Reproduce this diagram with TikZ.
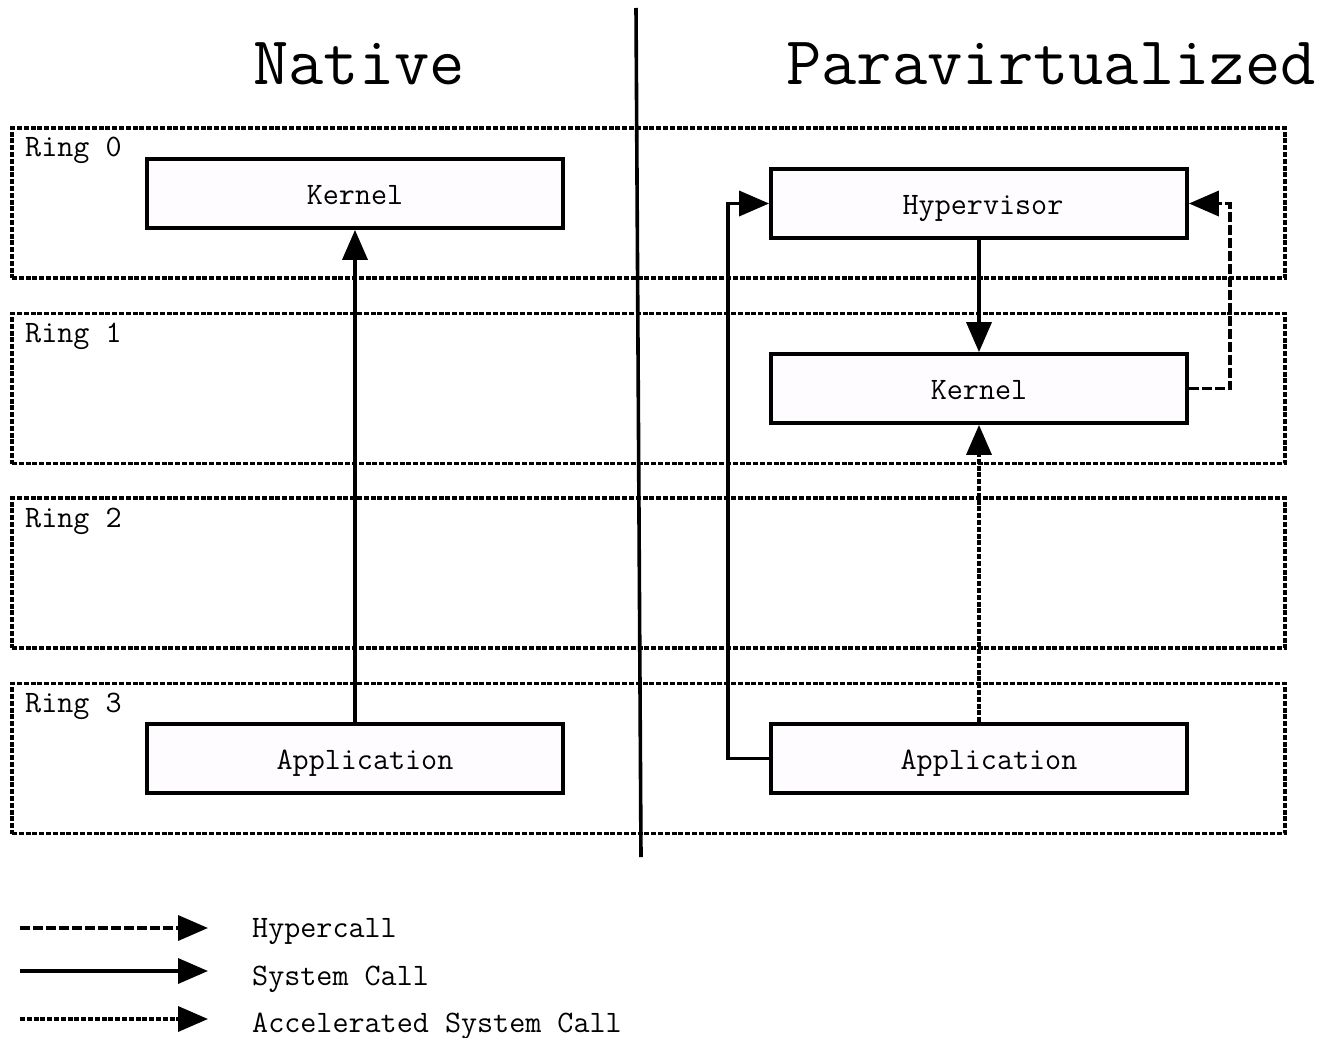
\documentclass[tikz,border=0pt]{standalone}
\usepackage{fontspec}
\usetikzlibrary{arrows.meta}
\definecolor{boxfill}{RGB}{255,252,255}
\begin{document}
\begin{tikzpicture}[x=1pt,y=-1pt,
  ringbox/.style={draw,line width=3.3pt,dash pattern=on 5pt off 1.8pt,minimum width=1273pt,minimum height=150pt,inner sep=0pt},
  compbox/.style={draw,line width=3.8pt,fill=boxfill,minimum width=416pt,minimum height=69pt,inner sep=0pt,text height=22pt,text depth=0pt,font=\ttfamily\fontsize{31.2}{34}\selectfont},
  lbl/.style={font=\ttfamily\fontsize{31.2}{34}\selectfont,inner sep=0pt},
  ttl/.style={font=\ttfamily\fontsize{68.5}{72}\selectfont,inner sep=0pt},
  tip/.style={-{Triangle[length=30pt,width=25pt]}},
  syscall/.style={tip,line width=3.6pt},
  hyper/.style={tip,line width=3.6pt,dash pattern=on 10pt off 3pt},
  accel/.style={tip,line width=3.6pt,dash pattern=on 5pt off 1.8pt}]
\useasboundingbox (0,0) rectangle (1322,1038);
% rings
\node[ringbox] (r0) at (648.5,203) {};
\node[ringbox] (r1) at (648.5,388.5) {};
\node[ringbox] (r2) at (648.5,573) {};
\node[ringbox] (r3) at (648.5,758.5) {};
\node[lbl,anchor=base west] (r0l) at (25,157) {Ring 0};
\node[lbl,anchor=base west] (r1l) at (25,342) {Ring 1};
\node[lbl,anchor=base west] (r2l) at (25,527) {Ring 2};
\node[lbl,anchor=base west] (r3l) at (25,712) {Ring 3};
% titles
\node[ttl,anchor=base] (tn) at (359,85) {Native};
\node[ttl,anchor=base] (tp) at (1051,85) {Paravirtualized};
% divider
\coordinate (dtop) at (636,8);
\coordinate (dbot) at (641,857);
\draw[line width=3.6pt] (dtop) -- (dbot);
% native
\node[compbox] (k1) at (355,193.5) {Kernel};
\node[compbox] (a1) at (355,758.5) {\hspace*{20pt}Application};
% paravirtualized
\node[compbox] (hv) at (979,203.5) {\hspace*{8pt}Hypervisor};
\node[compbox] (k2) at (979,388.5) {Kernel};
\node[compbox] (a2) at (979,758.5) {\hspace*{20pt}Application};
% connectors
\draw[syscall] (a1.north) -- (k1.south);
\draw[syscall] (hv.south) -- (k2.north);
\draw[accel] (a2.north) -- (k2.south);
\draw[syscall] (a2.west) -- ++(-41,0) |- (hv.west);
\draw[hyper] (k2.east) -- ++(41,0) |- (hv.east);
% legend
\coordinate (l1s) at (20,928); \coordinate (l1e) at (208,928);
\coordinate (l2s) at (20,971); \coordinate (l2e) at (208,971);
\coordinate (l3s) at (20,1019); \coordinate (l3e) at (208,1019);
\draw[hyper] (l1s) -- (l1e);
\draw[syscall] (l2s) -- (l2e);
\draw[accel] (l3s) -- (l3e);
\node[lbl,anchor=base west] (t1) at (252,937) {Hypercall};
\node[lbl,anchor=base west] (t2) at (252,985) {System Call};
\node[lbl,anchor=base west] (t3) at (252,1032) {Accelerated System Call};
\end{tikzpicture}
\end{document}
